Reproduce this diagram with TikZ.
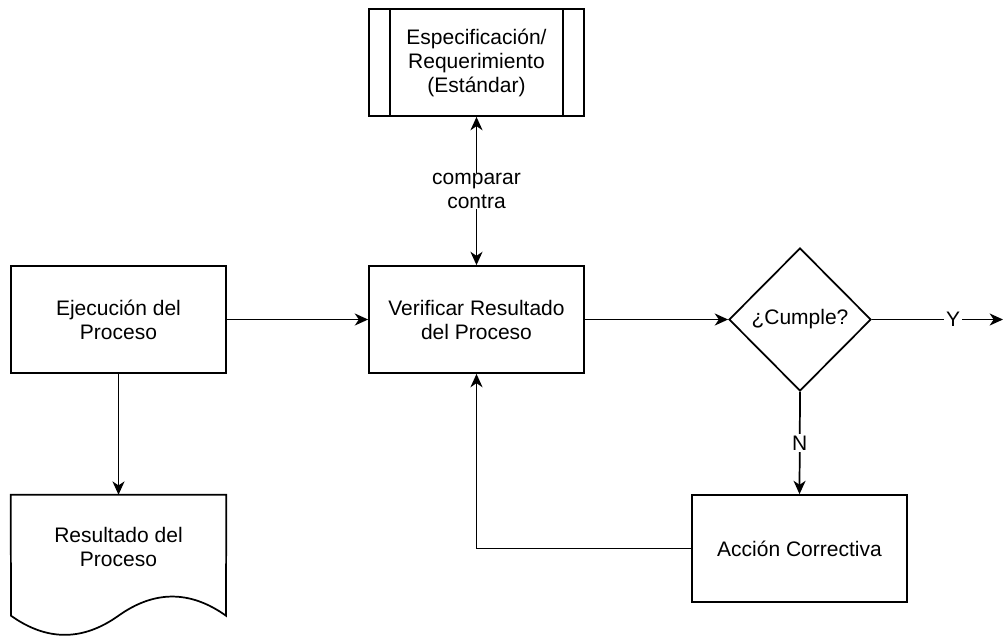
\documentclass[tikz,border=0pt]{standalone}
\usepackage{fontspec}
\setmainfont{Liberation Sans}
\usetikzlibrary{shapes.geometric,arrows.meta}

\begin{document}
\begin{tikzpicture}[x=0.75pt,y=-0.75pt,
  every node/.style={font=\fontsize{15.75}{18}\selectfont, align=center},
  outline/.style={line width=1.3pt},
  box/.style={draw, outline, minimum width=161.25pt, minimum height=80.25pt, inner sep=0pt},
  decision/.style={draw, diamond, outline, aspect=1, inner sep=0pt,
                   minimum width=106.5pt, minimum height=107.25pt},
  tip/.tip={Stealth[length=10pt,width=9pt,inset=3pt]},
  flow/.style={outline, -tip},
  twoway/.style={outline, tip-tip},
  lbl/.style={fill=white, inner sep=1.5pt}]
\useasboundingbox (0,0) rectangle (1004,637);

% process boxes
\node[box] (ejec)  at (118.5,319.5) {Ejecución del\\Proceso};
\node[box] (verif) at (476.5,319.5) {Verificar Resultado\\del Proceso};
\node[box] (espec) at (476.5,62.5)  {Especificación/\\Requerimiento\\(Estándar)};
\node[box] (acc)   at (799.5,548.5) {Acción Correctiva};
\node[decision] (dia) at (800,319.5) {¿Cumple?};

% predefined-process side bars
\draw[outline] ([xshift=16.5pt]espec.north west) -- ([xshift=16.5pt]espec.south west);
\draw[outline] ([xshift=-16.5pt]espec.north east) -- ([xshift=-16.5pt]espec.south east);

% document shape with wavy bottom
\node[inner sep=0pt, minimum width=161.25pt, minimum height=78pt] (res) at (118.5,547) {Resultado del\\Proceso};
\draw[outline] (res.north west) -- (res.north east) -- (226,615.7)
  .. controls (190.17,590.17) and (154.33,590.17) .. (118.5,615.7)
  .. controls (82.67,641.23) and (46.83,641.23) .. (11,615.7) -- cycle;

\coordinate (yend) at (1003,319.5);

% connectors
\draw[flow] (ejec) -- (verif);
\draw[flow] (ejec) -- (res.north);
\draw[flow] (verif) -- (dia);
\draw[flow] (dia.east) -- node[lbl, pos=0.62] {Y} (yend);
\draw[flow] (dia.south) -- node[lbl] {N} (acc.north);
\draw[flow] (acc.west) -| (verif.south);
\draw[twoway] (espec.south) -- node[lbl, inner sep=0.5pt] {comparar\\contra} (verif.north);
\end{tikzpicture}
\end{document}
